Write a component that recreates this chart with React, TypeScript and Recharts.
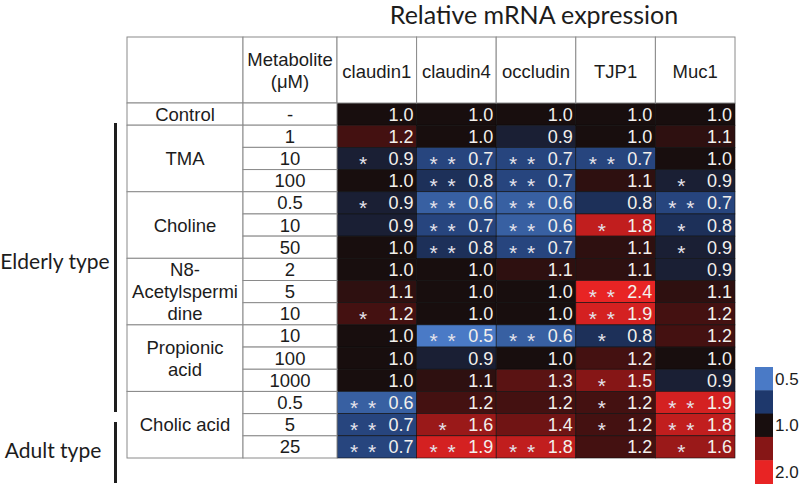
import { Legend, Scatter, ScatterChart, XAxis, YAxis } from 'recharts';

const genes = ['claudin1', 'claudin4', 'occludin', 'TJP1', 'Muc1'];
const groupNames = [['Control'], ['TMA'], ['Choline'], ['N8-', 'Acetylspermi', 'dine'], ['Propionic', 'acid'], ['Cholic acid']];
const groupSizes = [1, 3, 3, 3, 3, 3];
const doses = ['-', '1', '10', '100', '0.5', '10', '50', '2', '5', '10', '10', '100', '1000', '0.5', '5', '25'];

const claudin1 = [1.0, 1.2, 0.9, 1.0, 0.9, 0.9, 1.0, 1.0, 1.1, 1.2, 1.0, 1.0, 1.0, 0.6, 0.7, 0.7];
const claudin4 = [1.0, 1.0, 0.7, 0.8, 0.6, 0.7, 0.8, 1.0, 1.0, 1.0, 0.5, 0.9, 1.1, 1.2, 1.6, 1.9];
const occludin = [1.0, 0.9, 0.7, 0.7, 0.6, 0.6, 0.7, 1.1, 1.0, 1.0, 0.6, 1.0, 1.3, 1.2, 1.4, 1.8];
const tjp1 = [1.0, 1.0, 0.7, 1.1, 0.8, 1.8, 1.1, 1.1, 2.4, 1.9, 0.8, 1.2, 1.5, 1.2, 1.2, 1.2];
const muc1 = [1.0, 1.1, 1.0, 0.9, 0.7, 0.8, 0.9, 0.9, 1.1, 1.2, 1.2, 1.0, 0.9, 1.9, 1.8, 1.6];

// number of asterisks per cell
const claudin1Sig = [0, 0, 1, 0, 1, 0, 0, 0, 0, 1, 0, 0, 0, 2, 2, 2];
const claudin4Sig = [0, 0, 2, 2, 2, 2, 2, 0, 0, 0, 2, 0, 0, 0, 1, 2];
const occludinSig = [0, 0, 2, 2, 2, 2, 2, 0, 0, 0, 2, 0, 0, 0, 0, 2];
const tjp1Sig = [0, 0, 2, 0, 0, 1, 0, 0, 2, 2, 1, 0, 1, 1, 1, 0];
const muc1Sig = [0, 0, 0, 1, 2, 1, 1, 0, 0, 0, 0, 0, 0, 2, 2, 1];

const legendStops = [0.5, 0.75, 1.0, 1.5, 2.0];
const legendLabels = ['0.5', '', '1.0', '', '2.0'];

const seriesValues = [claudin1, claudin4, occludin, tjp1, muc1];
const seriesSig = [claudin1Sig, claudin4Sig, occludinSig, tjp1Sig, muc1Sig];

const cells = seriesValues.flatMap((vals, g) =>
  vals.map((v, r) => ({ x: g + 0.5, y: r + 0.5, value: v, sig: seriesSig[g][r] })),
);

// layout
const W = 800;
const H = 485;
const TABLE_LEFT = 127;
const META_LEFT = 243;
const PLOT_LEFT = 337;
const PLOT_RIGHT = 735;
const TABLE_TOP = 37;
const PLOT_TOP = 103;
const PLOT_BOTTOM = 458;
const CELL_W = (PLOT_RIGHT - PLOT_LEFT) / genes.length;
const CELL_H = (PLOT_BOTTOM - PLOT_TOP) / doses.length;
const GRID = '#8a8a8a';
const FONT = '"Liberation Sans", Arial, sans-serif';
const TEXT = '#1c1c1c';
const LABEL_SIZE = 18.5;

const colorStops: [number, number[]][] = [
  [0.5, [74, 122, 198]],
  [0.75, [30, 56, 108]],
  [1.0, [24, 14, 14]],
  [1.5, [134, 22, 22]],
  [2.0, [232, 36, 36]],
];

function heatColor(v: number) {
  if (v <= colorStops[0][0]) return `rgb(${colorStops[0][1].join(',')})`;
  for (let i = 1; i < colorStops.length; i++) {
    const [v1, c1] = colorStops[i];
    const [v0, c0] = colorStops[i - 1];
    if (v <= v1) {
      const t = (v - v0) / (v1 - v0);
      const c = c0.map((a, k) => Math.round(a + (c1[k] - a) * t));
      return `rgb(${c.join(',')})`;
    }
  }
  return `rgb(${colorStops[colorStops.length - 1][1].join(',')})`;
}

function HeatCell(props: any) {
  const { cx, cy, payload } = props;
  const x0 = cx - CELL_W / 2;
  const y0 = cy - CELL_H / 2;
  const starX = payload.sig === 2 ? [17, 35] : payload.sig === 1 ? [26] : [];
  return (
    <g>
      <rect x={x0} y={y0} width={CELL_W} height={CELL_H} fill={heatColor(payload.value)} stroke="#0e0e0e" strokeWidth={0.6} />
      {starX.map((sx) => (
        <text key={sx} x={x0 + sx} y={cy + 12.5} textAnchor="middle" fontFamily={FONT} fontSize={21} fill="#e4e2ea">
          *
        </text>
      ))}
      <text x={x0 + CELL_W - 3} y={cy + 6.5} textAnchor="end" fontFamily={FONT} fontSize={18} fill="#f3f0ec">
        {payload.value.toFixed(1)}
      </text>
    </g>
  );
}

function HeaderTick(props: any) {
  const { x, payload, index } = props;
  const left = x - CELL_W / 2;
  return (
    <g>
      {index === 0 && (
        <g>
          <rect x={TABLE_LEFT} y={TABLE_TOP} width={META_LEFT - TABLE_LEFT} height={PLOT_TOP - TABLE_TOP} fill="#fff" stroke={GRID} />
          <rect x={META_LEFT} y={TABLE_TOP} width={PLOT_LEFT - META_LEFT} height={PLOT_TOP - TABLE_TOP} fill="#fff" stroke={GRID} />
          <text x={(META_LEFT + PLOT_LEFT) / 2} y={66} textAnchor="middle" fontFamily={FONT} fontSize={LABEL_SIZE} fill={TEXT}>
            Metabolite
          </text>
          <text x={(META_LEFT + PLOT_LEFT) / 2} y={88} textAnchor="middle" fontFamily={FONT} fontSize={LABEL_SIZE} fill={TEXT}>
            (μM)
          </text>
        </g>
      )}
      <rect x={left} y={TABLE_TOP} width={CELL_W} height={PLOT_TOP - TABLE_TOP} fill="#fff" stroke={GRID} />
      <text x={x} y={78} textAnchor="middle" fontFamily={FONT} fontSize={LABEL_SIZE} fill={TEXT}>
        {genes[Math.floor(payload.value)]}
      </text>
    </g>
  );
}

function RowTick(props: any) {
  const { y, payload } = props;
  const row = Math.floor(payload.value);
  const top = y - CELL_H / 2;
  let start = 0;
  let group = -1;
  groupSizes.forEach((n, g) => {
    if (row === start) group = g;
    start += n;
  });
  let groupBox = null;
  if (group >= 0) {
    const lines = groupNames[group];
    const h = groupSizes[group] * CELL_H;
    const mid = top + h / 2;
    groupBox = (
      <g>
        <rect x={TABLE_LEFT} y={top} width={META_LEFT - TABLE_LEFT} height={h} fill="#fff" stroke={GRID} />
        {lines.map((ln, i) => (
          <text
            key={ln}
            x={(TABLE_LEFT + META_LEFT) / 2}
            y={mid + (i - (lines.length - 1) / 2) * CELL_H + 6.5}
            textAnchor="middle"
            fontFamily={FONT}
            fontSize={LABEL_SIZE}
            fill={TEXT}
          >
            {ln}
          </text>
        ))}
      </g>
    );
  }
  return (
    <g>
      {groupBox}
      <rect x={META_LEFT} y={top} width={PLOT_LEFT - META_LEFT} height={CELL_H} fill="#fff" stroke={GRID} />
      <text x={(META_LEFT + PLOT_LEFT) / 2} y={y + 6.5} textAnchor="middle" fontFamily={FONT} fontSize={LABEL_SIZE} fill={TEXT}>
        {doses[row]}
      </text>
    </g>
  );
}

function LegendBlocks() {
  const bh = 23.3;
  return (
    <svg width={45} height={bh * legendStops.length} style={{ display: 'block', overflow: 'visible' }}>
      {legendStops.map((s, i) => (
        <g key={s}>
          <rect x={0} y={i * bh} width={18} height={bh + 0.5} fill={heatColor(s)} />
          {legendLabels[i] && (
            <text x={20} y={i * bh + bh / 2 + 6} fontFamily={FONT} fontSize={17} fill={TEXT}>
              {legendLabels[i]}
            </text>
          )}
        </g>
      ))}
    </svg>
  );
}

const sideFont = 'Lato, "Open Sans", sans-serif';

export default function App() {
  return (
    <div style={{ position: 'absolute', left: 0, top: 0, width: W, height: H, background: '#fff', overflow: 'hidden' }}>
      <ScatterChart
        width={W}
        height={H}
        margin={{ top: TABLE_TOP, right: W - PLOT_RIGHT, bottom: H - PLOT_BOTTOM, left: TABLE_LEFT }}
      >
        <XAxis
          type="number"
          dataKey="x"
          orientation="top"
          domain={[0, genes.length]}
          ticks={genes.map((_, i) => i + 0.5)}
          interval={0}
          height={PLOT_TOP - TABLE_TOP}
          tick={<HeaderTick />}
          axisLine={false}
          tickLine={false}
        />
        <YAxis
          type="number"
          dataKey="y"
          reversed
          domain={[0, doses.length]}
          ticks={doses.map((_, i) => i + 0.5)}
          interval={0}
          width={PLOT_LEFT - TABLE_LEFT}
          tick={<RowTick />}
          axisLine={false}
          tickLine={false}
        />
        <Scatter data={cells} shape={<HeatCell />} isAnimationActive={false} />
        <Legend
          layout="horizontal"
          verticalAlign="middle"
          align="center"
          content={<LegendBlocks />}
          wrapperStyle={{ left: 755, top: 367, width: 45, height: 118 }}
        />
      </ScatterChart>
      <div
        style={{
          position: 'absolute',
          left: 334,
          top: 0,
          width: 400,
          textAlign: 'center',
          fontFamily: sideFont,
          fontSize: 25,
          lineHeight: '28px',
          color: TEXT,
        }}
      >
        Relative mRNA expression
      </div>
      <div style={{ position: 'absolute', left: 114, top: 123, width: 3, height: 289, background: '#1e1e1e' }} />
      <div style={{ position: 'absolute', left: 114, top: 422, width: 3, height: 61, background: '#1e1e1e' }} />
      <div style={{ position: 'absolute', left: 0, top: 248, width: 110, textAlign: 'center', fontFamily: sideFont, fontSize: 21, color: TEXT }}>
        Elderly type
      </div>
      <div style={{ position: 'absolute', left: 0, top: 437, width: 106, textAlign: 'center', fontFamily: sideFont, fontSize: 21, color: TEXT }}>
        Adult type
      </div>
    </div>
  );
}
